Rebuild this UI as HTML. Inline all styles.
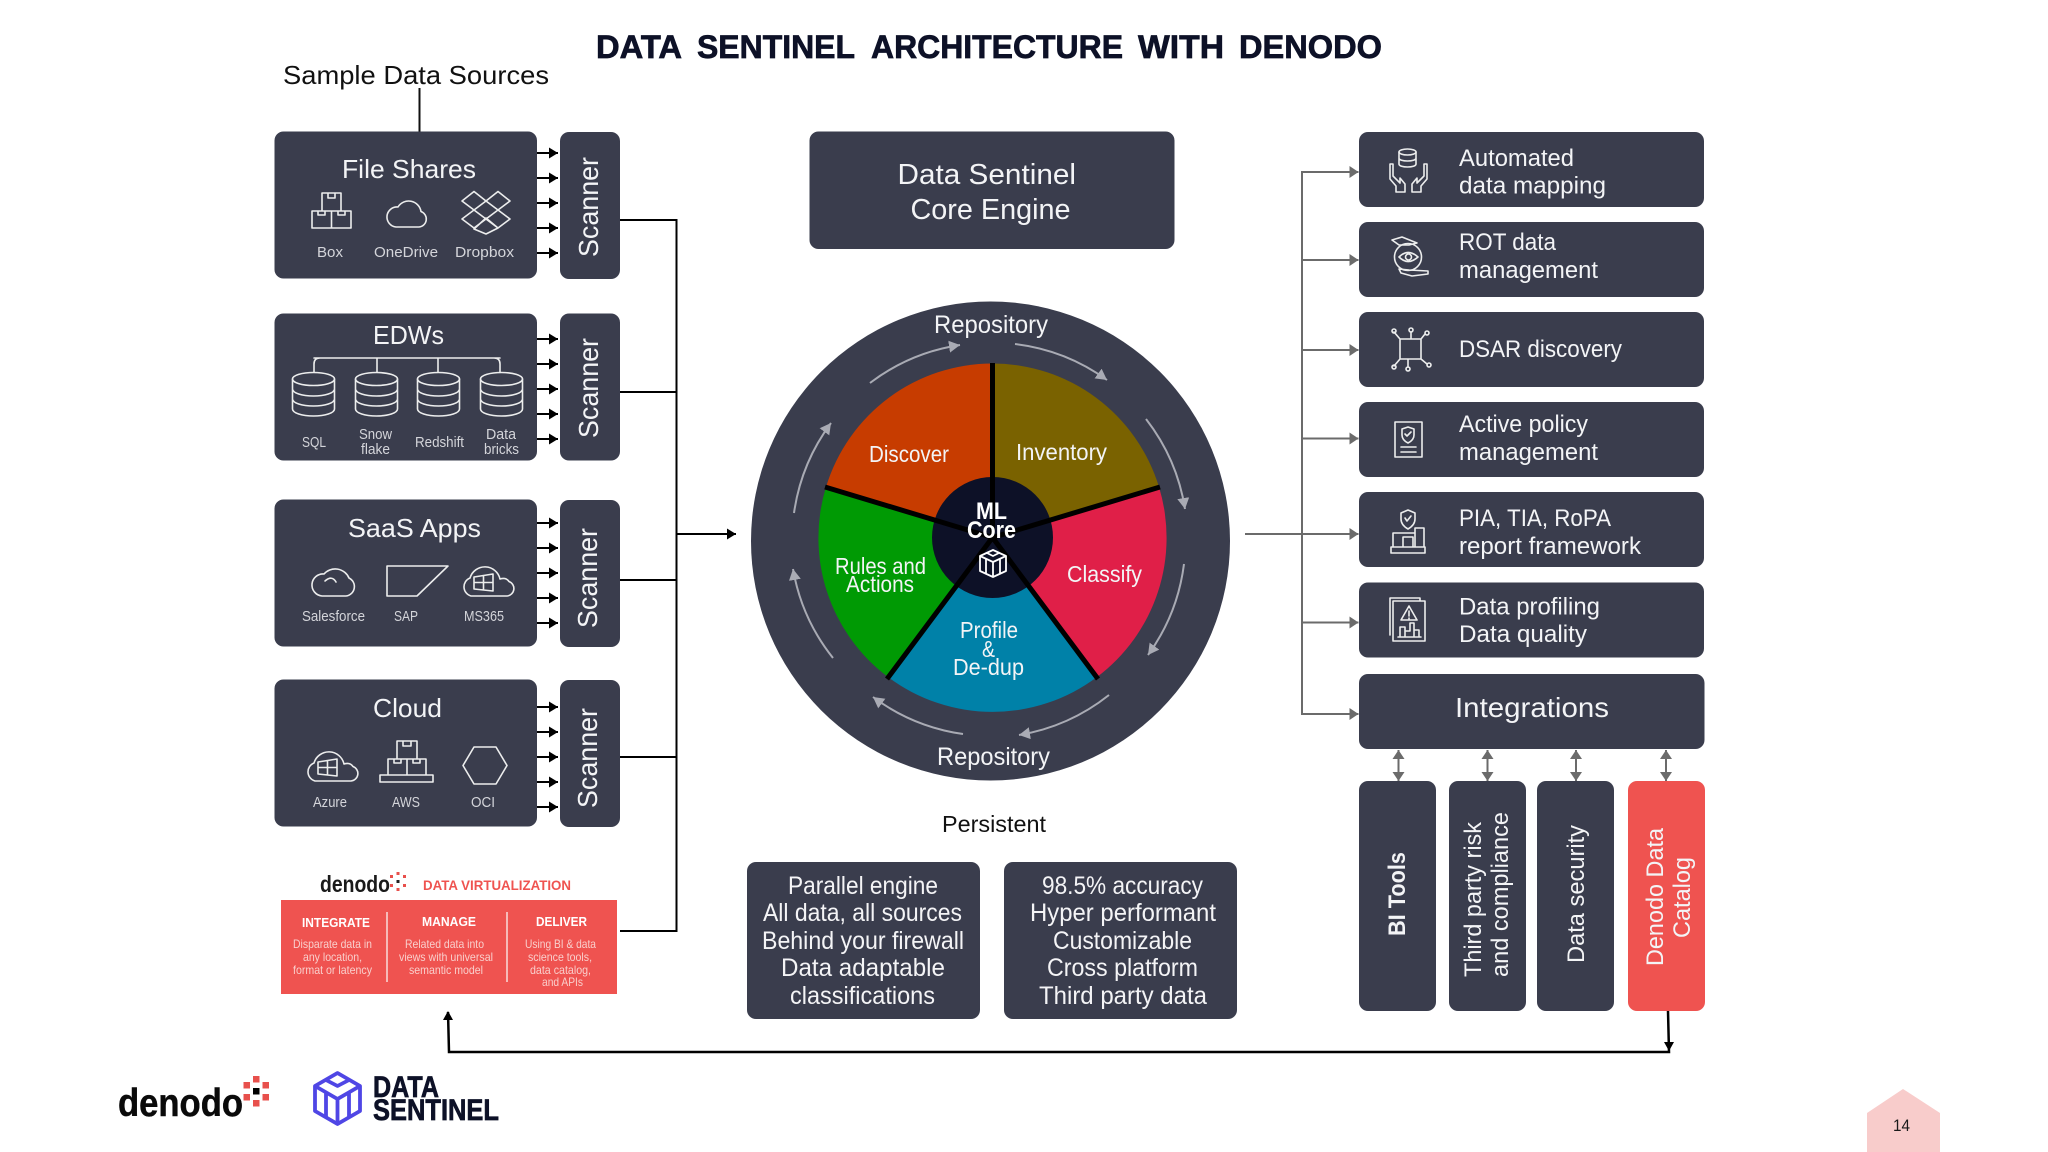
<!DOCTYPE html>
<html lang="en"><head><meta charset="utf-8"><title>Data Sentinel Architecture with Denodo</title>
<style>
html,body{margin:0;padding:0;background:#fff;width:2048px;height:1152px;overflow:hidden}
svg{display:block}
text{font-family:"Liberation Sans",sans-serif;fill:#f3f4f6}
.s{fill:#d4d5da;font-size:15px}
.d{fill:#0d1127;font-weight:bold;stroke:#0d1127;stroke-width:.7px}
.w{fill:#f4f4f6;font-size:25px}
.r{fill:#f9cfcc;font-size:12px}
.h{fill:#fff;font-weight:bold;font-size:13px}
.i{fill:none;stroke:#eceded;stroke-width:1.6;stroke-linejoin:round;stroke-linecap:round}
g[font-size] > text:not([transform]),.w,text[font-size="29"],text[font-size="28"],text[font-size="26"]{transform:translateY(1px)}
</style></head><body>
<svg width="2048" height="1152" viewBox="0 0 2048 1152" xmlns="http://www.w3.org/2000/svg">
<defs>
<marker id="k" markerUnits="userSpaceOnUse" markerWidth="10" markerHeight="12" refX="9" refY="6" orient="auto"><path d="M0 .5L9 6L0 11.500Z" fill="#000"/></marker>
<marker id="g" markerUnits="userSpaceOnUse" markerWidth="10" markerHeight="12" refX="9" refY="6" orient="auto"><path d="M0 0L9 6L0 12Z" fill="#6b6b6b"/></marker>
<marker id="gd" markerUnits="userSpaceOnUse" markerWidth="10" markerHeight="12" refX="9" refY="6" orient="auto-start-reverse"><path d="M0 0L9 6L0 12Z" fill="#6b6b6b"/></marker>
<marker id="c" markerUnits="userSpaceOnUse" markerWidth="14" markerHeight="14" refX="11" refY="6" orient="auto"><path d="M0 0L11 6L0 12Z" fill="#a9abb4"/></marker>
<g id="a5" stroke="#000" stroke-width="2">
<line x1="537" y1="0" x2="558" y2="0" marker-end="url(#k)"/>
<line x1="537" y1="25" x2="558" y2="25" marker-end="url(#k)"/>
<line x1="537" y1="50" x2="558" y2="50" marker-end="url(#k)"/>
<line x1="537" y1="75" x2="558" y2="75" marker-end="url(#k)"/>
<line x1="537" y1="100" x2="558" y2="100" marker-end="url(#k)"/>
</g>
<g id="db" class="i"><ellipse cx="21.5" cy="7" rx="21" ry="6.5"/><path d="M.5 7V37C.5 41 10 44 21.5 44S42.5 41 42.5 37V7M.5 17C.5 21 10 24 21.5 24S42.5 21 42.5 17M.5 27C.5 31 10 34 21.5 34S42.5 31 42.5 27"/></g>
<g id="ms" class="i"><path d="M11 32H47A7.500 7.500 0 0 0 49 17.500Q46 13 40 15A15.500 15.500 0 0 0 10 14A9.500 9.500 0 0 0 11 32Z"/><path d="M14 13L33 10V27L14 25ZM23.500 11.500V26M14 18.500H33"/></g>
</defs>

<!-- title -->
<text class="d" x="596" y="58" font-size="32" textLength="86" lengthAdjust="spacingAndGlyphs">DATA</text>
<text class="d" x="697" y="58" font-size="32" textLength="158" lengthAdjust="spacingAndGlyphs">SENTINEL</text>
<text class="d" x="871" y="58" font-size="32" textLength="252" lengthAdjust="spacingAndGlyphs">ARCHITECTURE</text>
<text class="d" x="1138" y="58" font-size="32" textLength="86" lengthAdjust="spacingAndGlyphs">WITH</text>
<text class="d" x="1239" y="58" font-size="32" textLength="143" lengthAdjust="spacingAndGlyphs">DENODO</text>
<text x="283" y="83" font-size="26" style="fill:#111" textLength="266" lengthAdjust="spacingAndGlyphs">Sample Data Sources</text>
<line x1="419.500" y1="88" x2="419.500" y2="132" stroke="#111" stroke-width="2"/>

<!-- left boxes -->
<g fill="#3a3d4d">
<rect x="274.500" y="131.500" width="262.500" height="147" rx="9"/>
<rect x="274.500" y="313.500" width="262.500" height="147" rx="9"/>
<rect x="274.500" y="499.500" width="262.500" height="147" rx="9"/>
<rect x="274.500" y="679.500" width="262.500" height="147" rx="9"/>
<rect x="560" y="132" width="60" height="147" rx="9"/>
<rect x="560" y="313.500" width="60" height="147" rx="9"/>
<rect x="560" y="500" width="60" height="147" rx="9"/>
<rect x="560" y="680" width="60" height="147" rx="9"/>
</g>
<use href="#a5" y="153"/><use href="#a5" y="339"/><use href="#a5" y="523"/><use href="#a5" y="707"/>

<g font-size="28">
<text transform="translate(598 257) rotate(-90)" textLength="100" lengthAdjust="spacingAndGlyphs">Scanner</text>
<text transform="translate(598 438) rotate(-90)" textLength="100" lengthAdjust="spacingAndGlyphs">Scanner</text>
<text transform="translate(597 628) rotate(-90)" textLength="100" lengthAdjust="spacingAndGlyphs">Scanner</text>
<text transform="translate(597 808) rotate(-90)" textLength="100" lengthAdjust="spacingAndGlyphs">Scanner</text>
</g>
<g font-size="26">
<text x="342" y="177" textLength="134" lengthAdjust="spacingAndGlyphs">File Shares</text>
<text x="373" y="343" textLength="71" lengthAdjust="spacingAndGlyphs">EDWs</text>
<text x="348" y="536" textLength="133" lengthAdjust="spacingAndGlyphs">SaaS Apps</text>
<text x="373" y="716" textLength="69" lengthAdjust="spacingAndGlyphs">Cloud</text>
</g>
<text class="s" x="317" y="257" textLength="26" lengthAdjust="spacingAndGlyphs">Box</text>
<text class="s" x="374" y="257" textLength="64" lengthAdjust="spacingAndGlyphs">OneDrive</text>
<text class="s" x="455" y="257" textLength="59" lengthAdjust="spacingAndGlyphs">Dropbox</text>
<text class="s" x="302" y="447" textLength="24" lengthAdjust="spacingAndGlyphs">SQL</text>
<text class="s" x="359" y="439" textLength="33" lengthAdjust="spacingAndGlyphs">Snow</text>
<text class="s" x="361" y="454" textLength="29" lengthAdjust="spacingAndGlyphs">flake</text>
<text class="s" x="415" y="447" textLength="49" lengthAdjust="spacingAndGlyphs">Redshift</text>
<text class="s" x="486" y="439" textLength="30" lengthAdjust="spacingAndGlyphs">Data</text>
<text class="s" x="484" y="454" textLength="35" lengthAdjust="spacingAndGlyphs">bricks</text>
<text class="s" x="302" y="621" textLength="63" lengthAdjust="spacingAndGlyphs">Salesforce</text>
<text class="s" x="394" y="621" textLength="24" lengthAdjust="spacingAndGlyphs">SAP</text>
<text class="s" x="464" y="621" textLength="40" lengthAdjust="spacingAndGlyphs">MS365</text>
<text class="s" x="313" y="807" textLength="34" lengthAdjust="spacingAndGlyphs">Azure</text>
<text class="s" x="392" y="807" textLength="28" lengthAdjust="spacingAndGlyphs">AWS</text>
<text class="s" x="471" y="807" textLength="24" lengthAdjust="spacingAndGlyphs">OCI</text>

<!-- left icons -->
<g class="i">
<path d="M322 193H341V211H322ZM312 211H331.500V228H312ZM331.500 211H351V228H331.500ZM328 193V198H335V193M318 211V215H325V211M338 211V215H345V211"/>
<path d="M396 227H419A8 8 0 0 0 421 211.500A12.500 12.500 0 0 0 398 207A10 10 0 0 0 396 227Z"/>
<path d="M462 201L474 191.500L486 201L498 191.500L510 201L498 210L510 219L498 228L486 219L474 228L462 219L474 210ZM474 210L486 201L498 210L486 219ZM474 229L486 218L498 228L486 234Z"/>
<path d="M314 358H500M314 372V364Q314 358 320 358M500 372V364Q500 358 494 358M377 358V372M438 358V372"/>
<path d="M322 596H346A9.500 9.500 0 0 0 349 578A15 15 0 0 0 324 574A11 11 0 0 0 322 596ZM325 581Q332 575 336 582"/>
<path d="M387 566H448L417 596H387Z"/>
<path d="M397 741H417V759H397ZM388 759H407V775H388ZM407 759H426V775H407ZM380 775H433V782H380ZM403 741V746H411V741M394 759V763H401V759M413 759V763H420V759"/>
<path d="M463 765.500L474 747H496L507 765.500L496 784H474Z"/>
</g>
<use href="#db" x="292" y="372"/><use href="#db" x="355" y="372"/><use href="#db" x="417" y="372"/><use href="#db" x="480" y="372"/>
<use href="#ms" x="460" y="564"/><use href="#ms" x="304" y="749"/>

<!-- red denodo block -->
<text x="320" y="892" font-size="23" font-weight="bold" style="fill:#1a1a1a" textLength="70" lengthAdjust="spacingAndGlyphs">denodo</text>
<g fill="#e8504c"><rect x="396.500" y="872" width="3" height="3"/><rect x="403" y="875" width="3" height="3"/><rect x="403" y="884" width="3" height="3"/><rect x="396.500" y="888" width="3" height="3"/><rect x="390" y="884" width="3" height="3"/><rect x="390" y="875" width="3" height="3"/></g>
<rect x="396.500" y="880" width="3" height="3" fill="#222"/>
<text x="423" y="890" font-size="14" font-weight="bold" style="fill:#ef5350" textLength="148" lengthAdjust="spacingAndGlyphs">DATA VIRTUALIZATION</text>
<rect x="281" y="900" width="336" height="94" fill="#ef5350"/>
<path d="M387 912V982M507 912V982" stroke="#f9dcda" stroke-width="1.500"/>
<text class="h" x="302" y="927" textLength="68" lengthAdjust="spacingAndGlyphs">INTEGRATE</text>
<text class="h" x="422" y="926" textLength="54" lengthAdjust="spacingAndGlyphs">MANAGE</text>
<text class="h" x="536" y="926" textLength="51" lengthAdjust="spacingAndGlyphs">DELIVER</text>
<text class="r" x="293" y="948" textLength="79" lengthAdjust="spacingAndGlyphs">Disparate data in</text>
<text class="r" x="303" y="961" textLength="59" lengthAdjust="spacingAndGlyphs">any location,</text>
<text class="r" x="293" y="974" textLength="79" lengthAdjust="spacingAndGlyphs">format or latency</text>
<text class="r" x="405" y="948" textLength="79" lengthAdjust="spacingAndGlyphs">Related data into</text>
<text class="r" x="399" y="961" textLength="94" lengthAdjust="spacingAndGlyphs">views with universal</text>
<text class="r" x="409" y="974" textLength="74" lengthAdjust="spacingAndGlyphs">semantic model</text>
<text class="r" x="525" y="948" textLength="71" lengthAdjust="spacingAndGlyphs">Using BI &amp; data</text>
<text class="r" x="528" y="961" textLength="64" lengthAdjust="spacingAndGlyphs">science tools,</text>
<text class="r" x="530" y="974" textLength="61" lengthAdjust="spacingAndGlyphs">data catalog,</text>
<text class="r" x="542" y="986" textLength="41" lengthAdjust="spacingAndGlyphs">and APIs</text>

<!-- bus -->
<path d="M620 220H676.500V931H620M620 392H676.500M620 580H676.500M620 757H676.500" fill="none" stroke="#000" stroke-width="2"/>
<line x1="676.500" y1="534" x2="736" y2="534" stroke="#000" stroke-width="2" marker-end="url(#k)"/>

<!-- centre -->
<rect x="809.500" y="131.500" width="365" height="117.500" rx="9" fill="#3a3d4d"/>
<text x="897.500" y="183" font-size="29" textLength="178.500" lengthAdjust="spacingAndGlyphs">Data Sentinel</text>
<text x="910.500" y="218" font-size="29" textLength="160" lengthAdjust="spacingAndGlyphs">Core Engine</text>

<circle cx="990.500" cy="541" r="239.500" fill="#3a3d4d"/>
<path d="M992.500 537.500L992.500 363.500A174 174 0 0 1 1159 487Z" fill="#7a6200"/>
<path d="M992.500 537.500L1159 487A174 174 0 0 1 1097 677Z" fill="#e01f48"/>
<path d="M992.500 537.500L1097 677A174 174 0 0 1 888 677Z" fill="#0081a8"/>
<path d="M992.500 537.500L888 677A174 174 0 0 1 826 487Z" fill="#009a04"/>
<path d="M992.500 537.500L826 487A174 174 0 0 1 992.500 363.500Z" fill="#c73c00"/>
<circle cx="992.500" cy="537.500" r="60.500" fill="#0d1127"/>
<path d="M992.500 537.500V363M992.500 537.500L1160 487M992.500 537.500L1098 679M992.500 537.500L887 679M992.500 537.500L825 487" stroke="#000" stroke-width="5" fill="none"/>
<g fill="none" stroke="#a9abb4" stroke-width="2">
<path d="M870 383A197 197 0 0 1 960 345" marker-end="url(#c)"/>
<path d="M1015 344A197 197 0 0 1 1107 380" marker-end="url(#c)"/>
<path d="M1146 419A197 197 0 0 1 1185 509" marker-end="url(#c)"/>
<path d="M1184 564A197 197 0 0 1 1148 655" marker-end="url(#c)"/>
<path d="M1109 695A197 197 0 0 1 1019 735" marker-end="url(#c)"/>
<path d="M963 734A197 197 0 0 1 873 697" marker-end="url(#c)"/>
<path d="M833 658A197 197 0 0 1 793 569" marker-end="url(#c)"/>
<path d="M794 513A197 197 0 0 1 831 423" marker-end="url(#c)"/>
</g>
<g font-size="25">
<text x="934" y="332" textLength="114" lengthAdjust="spacingAndGlyphs">Repository</text>
<text x="937" y="764" textLength="113" lengthAdjust="spacingAndGlyphs">Repository</text>
</g>
<g font-size="23">
<text x="869" y="461" textLength="80" lengthAdjust="spacingAndGlyphs">Discover</text>
<text x="1016" y="459" textLength="91" lengthAdjust="spacingAndGlyphs">Inventory</text>
<text x="1067" y="581" textLength="75" lengthAdjust="spacingAndGlyphs">Classify</text>
<text x="835" y="573" textLength="91" lengthAdjust="spacingAndGlyphs">Rules and</text>
<text x="846" y="591" textLength="68" lengthAdjust="spacingAndGlyphs">Actions</text>
<text x="960" y="637" textLength="58" lengthAdjust="spacingAndGlyphs">Profile</text>
<text x="982" y="656" textLength="13" lengthAdjust="spacingAndGlyphs">&amp;</text>
<text x="953" y="674" textLength="71" lengthAdjust="spacingAndGlyphs">De-dup</text>
</g>
<g font-size="24" font-weight="bold">
<text x="976" y="518" textLength="31" lengthAdjust="spacingAndGlyphs" style="fill:#fff">ML</text>
<text x="967" y="537" textLength="49" lengthAdjust="spacingAndGlyphs" style="fill:#fff">Core</text>
</g>
<path d="M993 550L1006 556V571L993 577L980 571V556ZM980 556L993 562L1006 556M987 553L993 556L999 553M986 559V574M993 562V577M1000 559V574" fill="none" stroke="#fff" stroke-width="1.800" stroke-linejoin="round"/>

<text x="942" y="832" font-size="23" style="fill:#111" textLength="104" lengthAdjust="spacingAndGlyphs">Persistent</text>
<rect x="747" y="862" width="233" height="157" rx="9" fill="#3a3d4d"/>
<rect x="1004" y="862" width="233" height="157" rx="9" fill="#3a3d4d"/>
<text class="w" x="788" y="893" textLength="150" lengthAdjust="spacingAndGlyphs">Parallel engine</text>
<text class="w" x="763" y="920" textLength="199" lengthAdjust="spacingAndGlyphs">All data, all sources</text>
<text class="w" x="762" y="948" textLength="202" lengthAdjust="spacingAndGlyphs">Behind your firewall</text>
<text class="w" x="781" y="975" textLength="164" lengthAdjust="spacingAndGlyphs">Data adaptable</text>
<text class="w" x="790" y="1003" textLength="145" lengthAdjust="spacingAndGlyphs">classifications</text>
<text class="w" x="1042" y="893" textLength="161" lengthAdjust="spacingAndGlyphs">98.5% accuracy</text>
<text class="w" x="1030" y="920" textLength="186" lengthAdjust="spacingAndGlyphs">Hyper performant</text>
<text class="w" x="1053" y="948" textLength="139" lengthAdjust="spacingAndGlyphs">Customizable</text>
<text class="w" x="1047" y="975" textLength="151" lengthAdjust="spacingAndGlyphs">Cross platform</text>
<text class="w" x="1039" y="1003" textLength="168" lengthAdjust="spacingAndGlyphs">Third party data</text>

<!-- right connectors -->
<line x1="1245" y1="534" x2="1302" y2="534" stroke="#6b6b6b" stroke-width="2"/>
<path d="M1302 172V714" stroke="#6b6b6b" stroke-width="2" fill="none"/>
<g stroke="#6b6b6b" stroke-width="2">
<line x1="1301" y1="172" x2="1358.500" y2="172" marker-end="url(#g)"/>
<line x1="1302" y1="260" x2="1358.500" y2="260" marker-end="url(#g)"/>
<line x1="1302" y1="350" x2="1358.500" y2="350" marker-end="url(#g)"/>
<line x1="1302" y1="438.500" x2="1358.500" y2="438.500" marker-end="url(#g)"/>
<line x1="1302" y1="534" x2="1358.500" y2="534" marker-end="url(#g)"/>
<line x1="1302" y1="622.500" x2="1358.500" y2="622.500" marker-end="url(#g)"/>
<line x1="1301" y1="714" x2="1358.500" y2="714" marker-end="url(#g)"/>
<line x1="1398.500" y1="750" x2="1398.500" y2="781" marker-start="url(#gd)" marker-end="url(#gd)"/>
<line x1="1487.500" y1="750" x2="1487.500" y2="781" marker-start="url(#gd)" marker-end="url(#gd)"/>
<line x1="1576" y1="750" x2="1576" y2="781" marker-start="url(#gd)" marker-end="url(#gd)"/>
<line x1="1666" y1="750" x2="1666" y2="781" marker-start="url(#gd)" marker-end="url(#gd)"/>
</g>

<!-- right boxes -->
<g fill="#3a3d4d">
<rect x="1359" y="132" width="345" height="75" rx="9"/>
<rect x="1359" y="222" width="345" height="75" rx="9"/>
<rect x="1359" y="312" width="345" height="75" rx="9"/>
<rect x="1359" y="402" width="345" height="75" rx="9"/>
<rect x="1359" y="492" width="345" height="75" rx="9"/>
<rect x="1359" y="582.500" width="345" height="75" rx="9"/>
<rect x="1359" y="674" width="345.500" height="75" rx="9"/>
<rect x="1359" y="781" width="77" height="230" rx="9"/>
<rect x="1449" y="781" width="77" height="230" rx="9"/>
<rect x="1537" y="781" width="77" height="230" rx="9"/>
</g>
<rect x="1628" y="781" width="77" height="230" rx="9" fill="#ef5350"/>
<g font-size="24">
<text x="1459" y="165" textLength="115" lengthAdjust="spacingAndGlyphs">Automated</text>
<text x="1459" y="192.500" textLength="147" lengthAdjust="spacingAndGlyphs">data mapping</text>
<text x="1459" y="249" textLength="97" lengthAdjust="spacingAndGlyphs">ROT data</text>
<text x="1459" y="277" textLength="139" lengthAdjust="spacingAndGlyphs">management</text>
<text x="1459" y="356" textLength="163" lengthAdjust="spacingAndGlyphs">DSAR discovery</text>
<text x="1459" y="431" textLength="129" lengthAdjust="spacingAndGlyphs">Active policy</text>
<text x="1459" y="459" textLength="139" lengthAdjust="spacingAndGlyphs">management</text>
<text x="1459" y="525" textLength="152" lengthAdjust="spacingAndGlyphs">PIA, TIA, RoPA</text>
<text x="1459" y="553" textLength="182" lengthAdjust="spacingAndGlyphs">report framework</text>
<text x="1459" y="613.500" textLength="141" lengthAdjust="spacingAndGlyphs">Data profiling</text>
<text x="1459" y="641" textLength="128" lengthAdjust="spacingAndGlyphs">Data quality</text>
</g>
<text x="1455" y="716" font-size="28" textLength="154" lengthAdjust="spacingAndGlyphs">Integrations</text>
<g font-size="24">
<text transform="translate(1405 936) rotate(-90)" font-weight="bold" textLength="84" lengthAdjust="spacingAndGlyphs">BI Tools</text>
<text transform="translate(1481 977) rotate(-90)" textLength="155" lengthAdjust="spacingAndGlyphs">Third party risk</text>
<text transform="translate(1508 977) rotate(-90)" textLength="165" lengthAdjust="spacingAndGlyphs">and compliance</text>
<text transform="translate(1584 963) rotate(-90)" textLength="138" lengthAdjust="spacingAndGlyphs">Data security</text>
<text transform="translate(1663 966) rotate(-90)" textLength="138" lengthAdjust="spacingAndGlyphs">Denodo Data</text>
<text transform="translate(1690 938) rotate(-90)" textLength="81" lengthAdjust="spacingAndGlyphs">Catalog</text>
</g>

<!-- right icons -->
<g class="i">
<ellipse cx="1407.500" cy="152" rx="8.500" ry="3"/>
<path d="M1399 152V164C1399 166 1403 167 1407.500 167S1416 166 1416 164V152M1399 158C1399 160 1403 161 1407.500 161S1416 160 1416 158"/>
<path d="M1390 164H1393V176L1400 183V178L1405 184V192H1396V186L1390 179Z"/>
<path d="M1427 164H1424V176L1417 183V178L1412 184V192H1421V186L1427 179Z"/>
<circle cx="1408" cy="257" r="13.500"/>
<path d="M1399 257Q1408 248 1418 257Q1408 266 1399 257Z"/><circle cx="1408.500" cy="257" r="3"/>
<path d="M1392 240L1402 237L1417 243L1409 245L1399 245Z"/>
<path d="M1399 269L1409 270L1428 271V274L1412 276L1401 273Z"/>
<path d="M1400 339H1421V359H1400ZM1400 339L1394 332M1421 339L1425 334M1411 339V332M1400 359L1394 366M1421 359L1427 364M1408 359V367"/>
<circle cx="1394" cy="331" r="2"/><circle cx="1411" cy="330" r="2"/><circle cx="1427" cy="333" r="2"/><circle cx="1394" cy="367" r="2"/><circle cx="1408" cy="369" r="2"/><circle cx="1429" cy="365" r="2"/>
<rect x="1395" y="422" width="27" height="35"/>
<path d="M1408 427L1414 429V435Q1414 440 1408 443Q1402 440 1402 435V429ZM1405 434L1407 436L1411 432M1401 447H1416M1401 452H1416"/>
<path d="M1408 510L1415 513V519Q1415 525 1408 529Q1401 525 1401 519V513ZM1405 518L1407 521L1411 516"/>
<path d="M1393 547V533H1415V547M1403 547V537H1413V547M1415 547V528H1424V547M1391 547H1425V553H1391Z"/>
<path d="M1390 635V598H1420V601M1393 601H1425V641H1393Z"/>
<path d="M1409 606L1417 620H1401ZM1409 611V616M1409 618V619M1400 637V627H1405V637M1405 637V631H1410V623H1414V637M1414 637V630H1419V637M1398 637H1421"/>
</g>

<!-- bottom feedback -->
<path d="M1668 1011L1669 1052H449L448 1012" fill="none" stroke="#000" stroke-width="2.500"/>
<path d="M1664 1042H1674L1669 1051ZM443 1020L448 1011L453 1020Z" fill="#000"/>

<!-- logos -->
<text x="118" y="1116" font-size="39" font-weight="bold" style="fill:#0a0a0a;stroke:#0a0a0a;stroke-width:.5px" textLength="125" lengthAdjust="spacingAndGlyphs">denodo</text>
<g fill="#e8504c"><rect x="253" y="1076" width="6.500" height="6.500"/><rect x="262.500" y="1082" width="6.500" height="6.500"/><rect x="262.500" y="1094" width="6.500" height="6.500"/><rect x="253" y="1100" width="6.500" height="6.500"/><rect x="243.500" y="1094" width="6.500" height="6.500"/><rect x="243.500" y="1082" width="6.500" height="6.500"/></g>
<rect x="253" y="1088" width="6.500" height="6.500" fill="#000"/>
<g fill="none" stroke="#4f46e5" stroke-width="3.800" stroke-linejoin="round">
<path d="M337.500 1073L360 1086V1111L337.500 1124L315 1111V1086Z"/>
<path d="M315 1086L337.500 1099L360 1086M326 1080L337.500 1086L349 1080M337.500 1099V1124M326 1093V1117M349 1093V1117"/>
</g>
<text class="d" x="373" y="1097" font-size="30" textLength="66" lengthAdjust="spacingAndGlyphs">DATA</text>
<text class="d" x="373" y="1120" font-size="30" textLength="126" lengthAdjust="spacingAndGlyphs">SENTINEL</text>

<!-- page badge -->
<path d="M1867 1113L1903 1089L1940 1113V1152H1867Z" fill="#f8cccb"/>
<text x="1893" y="1131" font-size="17" style="fill:#1a1a1a" textLength="17" lengthAdjust="spacingAndGlyphs">14</text>
</svg>
</body></html>
